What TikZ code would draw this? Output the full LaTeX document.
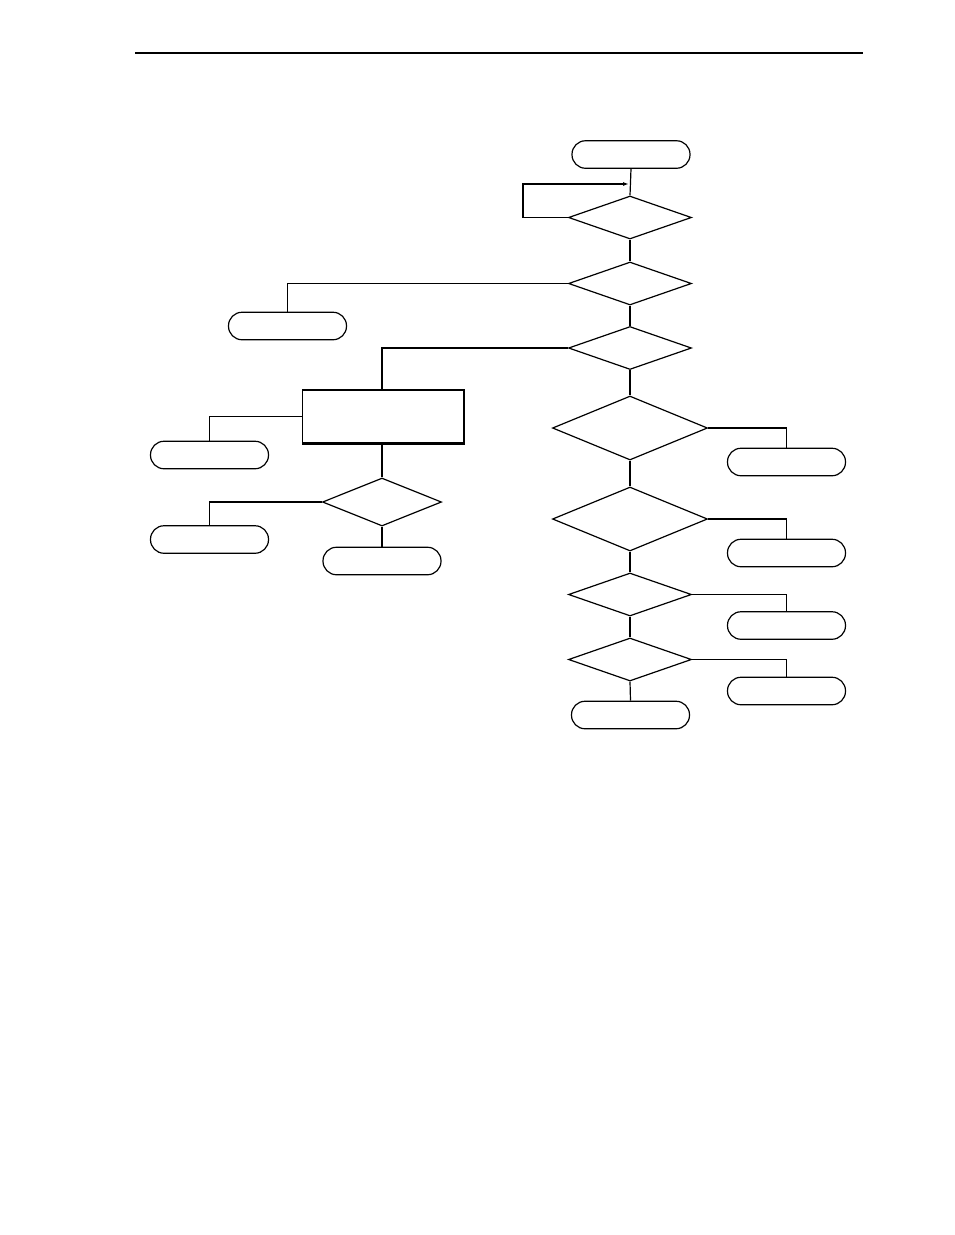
\documentclass[tikz,border=0pt]{standalone}
\usetikzlibrary{shapes.geometric,arrows.meta}
\begin{document}
\begin{tikzpicture}[x=1pt,y=-1pt,line width=1.2pt,
  term/.style={draw,rounded corners=13.5pt,minimum width=118pt,minimum height=27.5pt,inner sep=0pt},
  dec/.style={draw,shape=diamond,inner sep=0pt,minimum width=123pt,minimum height=43pt},
  bigdec/.style={draw,shape=diamond,inner sep=0pt,minimum width=155pt,minimum height=64pt},
  smalldec/.style={draw,shape=diamond,inner sep=0pt,minimum width=119pt,minimum height=48pt},
  proc/.style={draw,minimum width=161pt,minimum height=53pt,inner sep=0pt},
  conn/.style={line width=1.2pt}]
\useasboundingbox (0,0) rectangle (954,1235);
% header rule
\coordinate (hl) at (135,53);
\coordinate (hr) at (863,53);
\draw[line width=1.3pt] (hl) -- (hr);
% nodes
\node[term] (start) at (631,154.5) {};
\node[dec] (d1) at (630,217.5) {};
\node[dec] (d2) at (630,283.5) {};
\node[term] (t2) at (287.5,326) {};
\node[dec] (d3) at (630,348) {};
\node[proc] (rect) at (383,416.5) {};
\node[term] (t3) at (209.5,455) {};
\node[smalldec] (d4) at (382,502) {};
\node[term] (t4) at (209.5,539.5) {};
\node[term] (t5) at (382,561) {};
\node[bigdec] (d5) at (630,428) {};
\node[term] (t6) at (786.5,462) {};
\node[bigdec] (d6) at (630,519) {};
\node[term] (t7) at (786.5,553) {};
\node[dec] (d7) at (630,594.5) {};
\node[term] (t8) at (786.5,625.5) {};
\node[dec] (d8) at (630,659.5) {};
\node[term] (t9) at (786.5,691) {};
\node[term] (tend) at (630.5,715) {};
% shadow-like heavier edge on process box
\draw[line width=2.2pt] (rect.north east) -- (rect.south east) -- (rect.south west);
% loop
\coordinate (lp) at (523,184);
\coordinate (tip) at (631,184);
% connectors
\draw[conn] (start.south) -- (d1.north);
\draw[conn,-{Latex[length=6pt,width=4pt]}] (d1.west) -| (lp) -- ([xshift=-2pt]tip);
\draw[conn] (d1.south) -- (d2.north);
\draw[conn] (d2.west) -| (t2.north);
\draw[conn] (d2.south) -- (d3.north);
\draw[conn] (d3.west) -| (d4.north |- rect.north);
\draw[conn] (rect.west) -| (t3.north);
\draw[conn] (d4.north |- rect.south) -- (d4.north);
\draw[conn] (d4.west) -| (t4.north);
\draw[conn] (d4.south) -- (t5.north);
\draw[conn] (d3.south) -- (d5.north);
\draw[conn] (d5.east) -| (t6.north);
\draw[conn] (d5.south) -- (d6.north);
\draw[conn] (d6.east) -| (t7.north);
\draw[conn] (d6.south) -- (d7.north);
\draw[conn] (d7.east) -| (t8.north);
\draw[conn] (d7.south) -- (d8.north);
\draw[conn] (d8.east) -| (t9.north);
\draw[conn] (d8.south) -- (tend.north);
\end{tikzpicture}
\end{document}
